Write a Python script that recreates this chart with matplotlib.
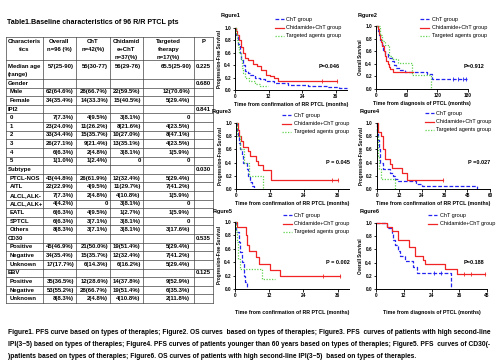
import matplotlib
matplotlib.use('Agg')
import matplotlib.pyplot as plt

plt.rcParams['font.family'] = ['Liberation Sans', 'DejaVu Sans']

W, H = 500, 364

# ---------------- table data ----------------
table_title = 'Table1.Baseline characteristics of 96 R/R PTCL pts'
headers = ['Characteris\ntics', 'Overall\nn=96 (%)', 'ChT\nn=42(%)',
           'Chidamid\ne+ChT\nn=37(%)', 'Targeted\ntherapy\nn=17(%)', 'P']
row_labels = ['Gender', 'Male', 'Female', 'IPI2', '0', '1', '2', '3', '4', '5',
              'Subtype', 'PTCL-NOS', 'AITL', 'ALCL,ALK-', 'ALCL,ALK+', 'EATL', 'SPTCL', 'Others',
              'CD30', 'Positive', 'Negative', 'Unknown',
              'EBV', 'Positive', 'Negative', 'Unknown']
is_group = ['Gender', 'IPI2', 'Subtype', 'CD30', 'EBV']
overall = ['', '62(64.6%)', '34(35.4%)', '', '7(7.3%)', '23(24.0%)', '33(34.4%)', '26(27.1%)',
           '6(6.3%)', '1(1.0%)', '', '43(44.8%)', '22(22.9%)', '7(7.3%)', '4(4.2%)', '6(6.3%)',
           '6(6.3%)', '8(8.3%)', '', '45(46.9%)', '34(35.4%)', '17(17.7%)', '', '35(36.5%)',
           '53(55.2%)', '8(8.3%)']
cht = ['', '28(66.7%)', '14(33.3%)', '', '4(9.5%)', '11(26.2%)', '15(35.7%)', '9(21.4%)',
       '2(4.8%)', '1(2.4%)', '', '26(61.9%)', '4(9.5%)', '2(4.8%)', '0', '4(9.5%)',
       '3(7.1%)', '3(7.1%)', '', '21(50.0%)', '15(35.7%)', '6(14.3%)', '', '12(28.6%)',
       '28(66.7%)', '2(4.8%)']
chid = ['', '22(59.5%)', '15(40.5%)', '', '3(8.1%)', '8(21.6%)', '10(27.0%)', '13(35.1%)',
        '3(8.1%)', '0', '', '12(32.4%)', '11(29.7%)', '4(10.8%)', '3(8.1%)', '1(2.7%)',
        '3(8.1%)', '3(8.1%)', '', '19(51.4%)', '12(32.4%)', '6(16.2%)', '', '14(37.8%)',
        '19(51.4%)', '4(10.8%)']
targ = ['', '12(70.6%)', '5(29.4%)', '', '0', '4(23.5%)', '8(47.1%)', '4(23.5%)',
        '1(5.9%)', '0', '', '5(29.4%)', '7(41.2%)', '1(5.9%)', '0', '1(5.9%)',
        '0', '3(17.6%)', '', '5(29.4%)', '7(41.2%)', '5(29.4%)', '', '9(52.9%)',
        '6(35.3%)', '2(11.8%)']
pvals = ['0.680', '', '', '0.841', '', '', '', '', '', '', '0.030', '', '', '', '', '', '', '',
         '0.535', '', '', '', '0.125', '', '', '']
median_row = ['57(25-90)', '55(30-77)', '56(29-76)', '65.5(25-90)', '0.225']

# ---------------- survival curves (months, survival) ----------------
# Figure1 PFS by therapy
f1_cht_t = [0, 0.4, 1.0, 1.7, 2.3, 2.9, 3.6, 4.5, 5.2, 7, 9, 10.6, 14, 19, 26, 33, 37, 40]
f1_cht_s = [1.0, 0.88, 0.75, 0.6, 0.5, 0.4, 0.3, 0.27, 0.25, 0.2, 0.18, 0.15, 0.12, 0.08, 0.06, 0.05, 0.04, 0.04]
f1_chid_t = [0, 0.3, 0.8, 1.5, 2.2, 2.9, 3.6, 4.6, 6.4, 8, 9.2, 11, 12.6, 14, 15.4, 36.5]
f1_chid_s = [1.0, 0.95, 0.88, 0.8, 0.7, 0.6, 0.52, 0.48, 0.42, 0.38, 0.32, 0.25, 0.22, 0.2, 0.15, 0.15]
f1_targ_t = [0, 0.2, 0.6, 1.0, 1.5, 2.0, 2.6, 3.0, 3.6, 5.0, 7.0, 9.0, 11.8]
f1_targ_s = [1.0, 0.9, 0.8, 0.7, 0.6, 0.5, 0.35, 0.28, 0.2, 0.15, 0.1, 0.06, 0.06]
# Figure2 OS by therapy
f2_cht_t = [0, 3, 6, 8, 11, 14, 18, 23, 31, 35, 40, 47, 57, 100, 110, 178]
f2_cht_s = [1.0, 0.92, 0.85, 0.78, 0.7, 0.62, 0.55, 0.5, 0.45, 0.38, 0.33, 0.3, 0.27, 0.24, 0.16, 0.16]
f2_chid_t = [0, 3, 5, 8, 10, 12, 15, 18, 20, 23, 26, 28, 33, 72]
f2_chid_s = [1.0, 0.95, 0.88, 0.8, 0.75, 0.68, 0.6, 0.52, 0.45, 0.4, 0.35, 0.31, 0.27, 0.27]
f2_targ_t = [0, 8, 12, 18, 25, 32, 43, 70, 107]
f2_targ_s = [1.0, 0.85, 0.76, 0.7, 0.53, 0.47, 0.42, 0.22, 0.0]
# Figure3 PFS, high second-line IPI
f3_cht_t = [0, 0.3, 0.7, 1.0, 1.5, 2.0, 2.5, 3.8, 4.3, 5.0, 5.6, 6.4]
f3_cht_s = [1.0, 0.9, 0.8, 0.7, 0.6, 0.5, 0.4, 0.3, 0.2, 0.1, 0.05, 0.0]
f3_chid_t = [0, 0.6, 1.1, 1.6, 2.4, 4.3, 5.0, 7.0, 7.8, 9.6, 12.3, 36]
f3_chid_s = [1.0, 0.9, 0.8, 0.72, 0.63, 0.57, 0.5, 0.43, 0.36, 0.29, 0.14, 0.14]
f3_targ_t = [0, 0.4, 1.5, 3.0, 4.6, 9.6]
f3_targ_s = [1.0, 0.8, 0.6, 0.4, 0.2, 0.0]
# Figure4 PFS, younger than 60
f4_cht_t = [0, 0.4, 0.9, 1.3, 2.0, 3.5, 7, 8.8, 9.7, 11.5, 21, 24, 53]
f4_cht_s = [1.0, 0.88, 0.75, 0.6, 0.4, 0.3, 0.25, 0.2, 0.15, 0.12, 0.08, 0.04, 0.0]
f4_chid_t = [0, 0.9, 2.3, 3.5, 4.4, 7.0, 7.9, 13.2, 15.9, 35]
f4_chid_s = [1.0, 0.87, 0.8, 0.6, 0.45, 0.38, 0.32, 0.25, 0.14, 0.14]
f4_targ_t = [0, 0.3, 0.8, 1.2, 2.1, 9.7]
f4_targ_s = [1.0, 0.8, 0.5, 0.3, 0.15, 0.0]
# Figure5 PFS, CD30(-)
f5_cht_t = [0, 0.5, 1.5, 1.9, 2.6, 3.1, 3.5, 4.1]
f5_cht_s = [1.0, 0.85, 0.7, 0.55, 0.4, 0.2, 0.1, 0.0]
f5_chid_t = [0, 0.6, 3.7, 4.3, 4.9, 7.4, 8.5, 12.3, 15.8, 36.8]
f5_chid_s = [1.0, 0.92, 0.8, 0.65, 0.57, 0.48, 0.38, 0.29, 0.19, 0.19]
f5_targ_t = [0, 0.2, 0.6, 1.1, 1.7, 9.4, 14]
f5_targ_s = [1.0, 0.85, 0.7, 0.45, 0.3, 0.15, 0.15]
# Figure6 OS, high second-line IPI
f6_cht_t = [0, 4.6, 6.8, 7.5, 8.2, 9.7, 10.4, 12.6, 16.2, 17.6, 32.4]
f6_cht_s = [1.0, 0.92, 0.83, 0.75, 0.67, 0.58, 0.5, 0.42, 0.33, 0.25, 0.0]
f6_chid_t = [0, 4.6, 6.8, 9.7, 14.3, 16.9, 20.3, 21.2, 29.9, 34.9, 47]
f6_chid_s = [1.0, 0.94, 0.88, 0.75, 0.63, 0.5, 0.44, 0.38, 0.3, 0.23, 0.23]

# censored observations (months) per panel: ChT, Chidamide+ChT
cens_cht = [[], [150, 160, 170, 177], [], [], [], [25, 28]]
cens_chid = [[31, 36.5], [], [34, 36], [35], [31, 36.8], [38, 41, 47]]

p_texts = ['P=0.046', 'P=0.912', 'P = 0.045', 'P =0.027', 'P = 0.002', 'P=0.188']
group_names = ['ChT group', 'Chidamide+ChT group', 'Targeted agents group']

captions = [
    'Figure1. PFS curve based on types of therapies; Figure2. OS curves  based on types of therapies; Figure3. PFS  curves of patients with high second-line',
    'IPI(3~5) based on types of therapies; Figure4. PFS curves of patients younger than 60 years based on types of therapies; Figure5. PFS  curves of CD30(-',
    ')patients based on types of therapies; Figure6. OS curves of patients with high second-line IPI(3~5)  based on types of therapies.',
]

BLUE = '#2424f0'
RED = '#f02424'
GREEN = '#5fd24c'

fig = plt.figure(figsize=(5, 3.64), dpi=100)
bg = fig.add_axes([0, 0, 1, 1])
bg.set_xlim(0, W)
bg.set_ylim(H, 0)
bg.axis('off')

# ---------------- table ----------------
col_edges = [6, 42.7, 76, 110, 142.7, 194, 213]
top, head_bot, med_bot, row_h = 36.7, 60, 79, 8.615
bottom = med_bot + row_h * len(row_labels)
tfs = 4.3
lc = '#444444'

bg.text(7, 23, table_title, fontsize=5.1, fontweight='bold', va='center')

ys = [top, head_bot, med_bot] + [med_bot + row_h * (i + 1) for i in range(len(row_labels))]
for y in ys:
    bg.plot([col_edges[0], col_edges[-1]], [y, y], color=lc, lw=0.5)
for x in col_edges:
    bg.plot([x, x], [top, bottom], color=lc, lw=0.5)

for j, h in enumerate(headers):
    cx = (col_edges[j] + col_edges[j + 1]) / 2
    for k, line in enumerate(h.split('\n')):
        bg.text(cx, 41.5 + k * 8.0, line, fontsize=tfs, fontweight='bold', ha='center', va='center')

bg.text(7.5, 66.5, 'Median age', fontsize=tfs, fontweight='bold', va='center')
bg.text(7.5, 74.5, '(range)', fontsize=tfs, fontweight='bold', va='center')
for j, v in enumerate(median_row):
    bg.text(col_edges[j + 2] - 2, 66.5, v, fontsize=tfs, fontweight='bold', ha='right', va='center')

for i, lab in enumerate(row_labels):
    yc = med_bot + row_h * (i + 0.5)
    x0 = 7.5 if lab in is_group else 10
    bg.text(x0, yc, lab, fontsize=tfs, fontweight='bold', va='center')
    for j, col in enumerate([overall, cht, chid, targ, pvals]):
        if col[i]:
            pad = 4 if j == 3 else 2
            bg.text(col_edges[j + 2] - pad, yc, col[i], fontsize=tfs, fontweight='bold',
                    ha='right', va='center')

# ---------------- KM panels ----------------
panels = [
    # left, right, top, bottom, xmax, xticks, ylabel, xlabel, xlabel pad
    (235, 347, 28, 90, 40, [0, 12, 24, 36], 'Progression-Free Survival',
     'Time from confirmation of RR PTCL (months)', 2),
    (376, 468, 26, 89, 180, [0, 60, 120, 180], 'Overall Survival',
     'Time from diagnosis of PTCL (months)', 2),
    (236, 349, 123, 189, 40, [0, 12, 24, 36], 'Progression-Free Survival',
     'Time from confirmation of RR PTCL (months)', 2),
    (376.7, 490, 123, 189, 60, [0, 12, 24, 36, 48, 60], 'Progression-Free Survival',
     'Time from confirmation of RR PTCL (months)', 2),
    (235, 349, 222, 289, 40, [0, 12, 24, 36], 'Progression-Free Survival',
     'Time from confirmation of RR PTCL (months)', 9),
    (376, 487, 223, 289, 48, [0, 12, 24, 36, 48], 'Overall Survival',
     'Time from diagnosis of PTCL (months)', 9),
]
curves = [
    [(f1_cht_t, f1_cht_s), (f1_chid_t, f1_chid_s), (f1_targ_t, f1_targ_s)],
    [(f2_cht_t, f2_cht_s), (f2_chid_t, f2_chid_s), (f2_targ_t, f2_targ_s)],
    [(f3_cht_t, f3_cht_s), (f3_chid_t, f3_chid_s), (f3_targ_t, f3_targ_s)],
    [(f4_cht_t, f4_cht_s), (f4_chid_t, f4_chid_s), (f4_targ_t, f4_targ_s)],
    [(f5_cht_t, f5_cht_s), (f5_chid_t, f5_chid_s), (f5_targ_t, f5_targ_s)],
    [(f6_cht_t, f6_cht_s), (f6_chid_t, f6_chid_s)],
]
styles = [dict(color=BLUE, ls=(0, (3, 1.5))), dict(color=RED, ls='-'), dict(color=GREEN, ls=(0, (1, 1.2)))]

titles_xy = [(221, 16), (358, 16), (212, 112), (360, 112), (213, 211), (360, 211)]
legend_xy = [(275, 19), (420, 19), (282, 115), (425, 113), (283, 215), (428, 215)]
p_xy = [(340, 66), (484, 66), (350, 163), (490, 162), (350, 262), (484, 263)]


def surv_at(tt, ss, x):
    v = ss[0]
    for a, b in zip(tt, ss):
        if a <= x:
            v = b
    return v


for k, (l, r, t, b, xmax, xt, ylab, xlab, xpad) in enumerate(panels):
    ax = fig.add_axes([l / W, 1 - b / H, (r - l) / W, (b - t) / H])
    ax.patch.set_alpha(0)
    for (tt, ss), st in zip(curves[k], styles):
        ax.step(tt, ss, where='post', lw=0.9, clip_on=False, **st)
    for cl, (tt, ss), col in [(cens_cht[k], curves[k][0], BLUE), (cens_chid[k], curves[k][1], RED)]:
        if cl:
            ax.plot(cl, [surv_at(tt, ss, c) for c in cl], '|', color=col, ms=2.2, mew=0.6,
                    clip_on=False)
    ax.set_xlim(0, xmax)
    ax.set_ylim(0, 1)
    ax.set_xticks(xt)
    ax.set_yticks([0, 0.2, 0.4, 0.6, 0.8, 1.0])
    ax.set_yticklabels(['0.0', '0.2', '0.4', '0.6', '0.8', '1.0'])
    for s in ['top', 'right']:
        ax.spines[s].set_visible(False)
    for s in ['left', 'bottom']:
        ax.spines[s].set_linewidth(0.7)
    ax.tick_params(labelsize=3.4, length=1.8, width=0.6, pad=1)
    for lab in ax.get_xticklabels() + ax.get_yticklabels():
        lab.set_fontweight('bold')
    ax.set_ylabel(ylab, fontsize=3.3, fontweight='bold', labelpad=1.5)
    ax.set_xlabel(xlab, fontsize=3.8, fontweight='bold', labelpad=xpad)

    bg.text(titles_xy[k][0], titles_xy[k][1], 'Figure%d' % (k + 1), fontsize=4.0,
            fontweight='bold', va='center')
    lx, ly = legend_xy[k]
    for g in range(len(curves[k])):
        yy = ly + g * 8.5
        bg.plot([lx, lx + 9], [yy, yy], lw=0.9, **styles[g])
        bg.text(lx + 11.5, yy, group_names[g], fontsize=4.0, va='center')
    bg.text(p_xy[k][0], p_xy[k][1], p_texts[k], fontsize=4.0, fontweight='bold',
            ha='right', va='center')

for i, c in enumerate(captions):
    bg.text(8, 333 + i * 12, c, fontsize=4.75, fontweight='bold', va='center')

fig.savefig('out.png', dpi=100)
